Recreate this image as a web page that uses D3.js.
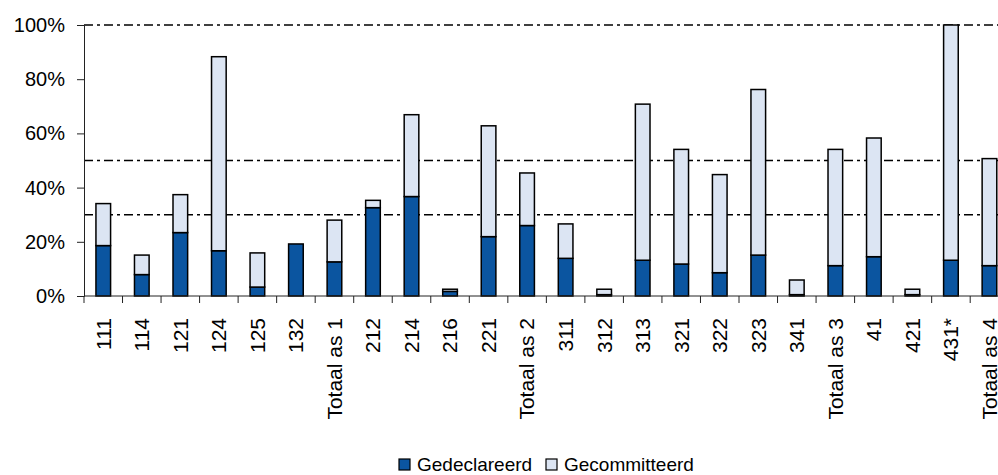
<!DOCTYPE html>
<html>
<head>
<meta charset="utf-8">
<script src="https://cdn.jsdelivr.net/npm/d3@7"></script>
<style>
    body { margin: 0; background: #fff; }
    text { font-family: "Liberation Sans", Arial, sans-serif; fill: #000; }
</style>
</head>
<body>
<div id="chart"></div>
<script>
// categories on the x axis
var categories = ["111","114","121","124","125","132","Totaal as 1",
    "212","214","216","221","Totaal as 2",
    "311","312","313","321","322","323","341","Totaal as 3",
    "41","421","431*","Totaal as 4"];

// percentage declared (dark part)
var gedeclareerd = [18.6, 7.9, 23.4, 16.7, 3.3, 19.2, 12.6,
    32.6, 36.7, 1.7, 21.9, 26.0,
    13.9, 0.5, 13.2, 11.8, 8.6, 15.1, 0.5, 11.2,
    14.5, 0.5, 13.2, 11.2];

// percentage committed on top of it (light part)
var gecommitteerd = [15.5, 7.2, 14.0, 71.6, 12.6, 0.0, 15.4,
    2.7, 30.2, 0.8, 40.9, 19.4,
    12.7, 2.0, 57.6, 42.3, 36.2, 61.1, 5.4, 42.9,
    43.8, 2.0, 86.8, 39.5];

var yTicks = [0, 20, 40, 60, 80, 100];
var refLines = [100, 50, 30];
var seriesNames = ["Gedeclareerd", "Gecommitteerd"];
var colors = ["#0B55A0", "#DCE5F3"];

var W = 998, H = 475;
var margin = {left:84, top:25, bottom:179};
var band = 38.53;

var svg = d3.select("#chart").append("svg")
    .attr("width", W)
    .attr("height", H);

var x = d3.scaleBand()
    .domain(categories)
    .range([margin.left, margin.left + band * categories.length])
    .paddingInner(0.62)
    .paddingOuter(0.31);

var y = d3.scaleLinear()
    .domain([0, 100])
    .range([H - margin.bottom, margin.top]);

// dash-dot reference lines
svg.append("g").selectAll("line")
    .data(refLines)
    .enter().append("line")
    .attr("x1", margin.left)
    .attr("x2", W)
    .attr("y1", function(d){ return y(d); })
    .attr("y2", function(d){ return y(d); })
    .attr("stroke", "#000")
    .attr("stroke-width", 1.5)
    .attr("stroke-dasharray", "9,4,3,4");

// stack the two series
var rows = categories.map(function(c, i){
    return {cat: c, Gedeclareerd: gedeclareerd[i], Gecommitteerd: gecommitteerd[i]};
});
var stack = d3.stack().keys(seriesNames)(rows);

var layers = svg.append("g").selectAll("g")
    .data(stack)
    .enter().append("g")
    .attr("fill", function(d, i){ return colors[i]; });

layers.selectAll("rect")
    .data(function(d){ return d.filter(function(p){ return p[1] - p[0] > 0; }); })
    .enter().append("rect")
    .attr("x", function(d){ return x(d.data.cat); })
    .attr("width", x.bandwidth())
    .attr("y", function(d){ return y(d[1]); })
    .attr("height", function(d){ return y(d[0]) - y(d[1]); })
    .attr("stroke", "#000")
    .attr("stroke-width", 1.5);

// y axis
var yAxis = svg.append("g")
    .attr("transform", "translate(" + margin.left + ",0)")
    .call(d3.axisLeft(y).tickValues(yTicks).tickSize(7).tickPadding(12)
        .tickFormat(function(d){ return d + "%"; }));
yAxis.selectAll("text").style("font-size", "20px");

// x axis, ticks between the categories
var xAxis = svg.append("g")
    .attr("transform", "translate(0," + y(0) + ")");
xAxis.append("line")
    .attr("x1", margin.left).attr("x2", W)
    .attr("stroke", "#222");
xAxis.selectAll(".tk")
    .data(categories)
    .enter().append("line")
    .attr("class", "tk")
    .attr("x1", function(d){ return x(d) - x.step() * x.paddingOuter(); })
    .attr("x2", function(d){ return x(d) - x.step() * x.paddingOuter(); })
    .attr("y2", 7)
    .attr("stroke", "#222");
xAxis.selectAll("text")
    .data(categories)
    .enter().append("text")
    .attr("transform", function(d){
        return "translate(" + (x(d) + x.bandwidth() / 2) + ",22) rotate(-90)";
    })
    .attr("dy", "0.35em")
    .attr("text-anchor", "end")
    .style("font-size", "21px")
    .text(function(d){ return d; });

svg.selectAll(".domain").attr("stroke", "#222");
svg.selectAll(".tick line").attr("stroke", "#222");

// legend
var legend = svg.append("g");
var legendX = [399, 546];
seriesNames.forEach(function(name, i){
    legend.append("rect")
        .attr("x", legendX[i]).attr("y", 459)
        .attr("width", 11).attr("height", 11)
        .attr("fill", colors[i])
        .attr("stroke", "#000")
        .attr("stroke-width", 1.2);
    legend.append("text")
        .attr("x", legendX[i] + 18).attr("y", 471)
        .style("font-size", "19px")
        .text(name);
});
</script>
</body>
</html>
